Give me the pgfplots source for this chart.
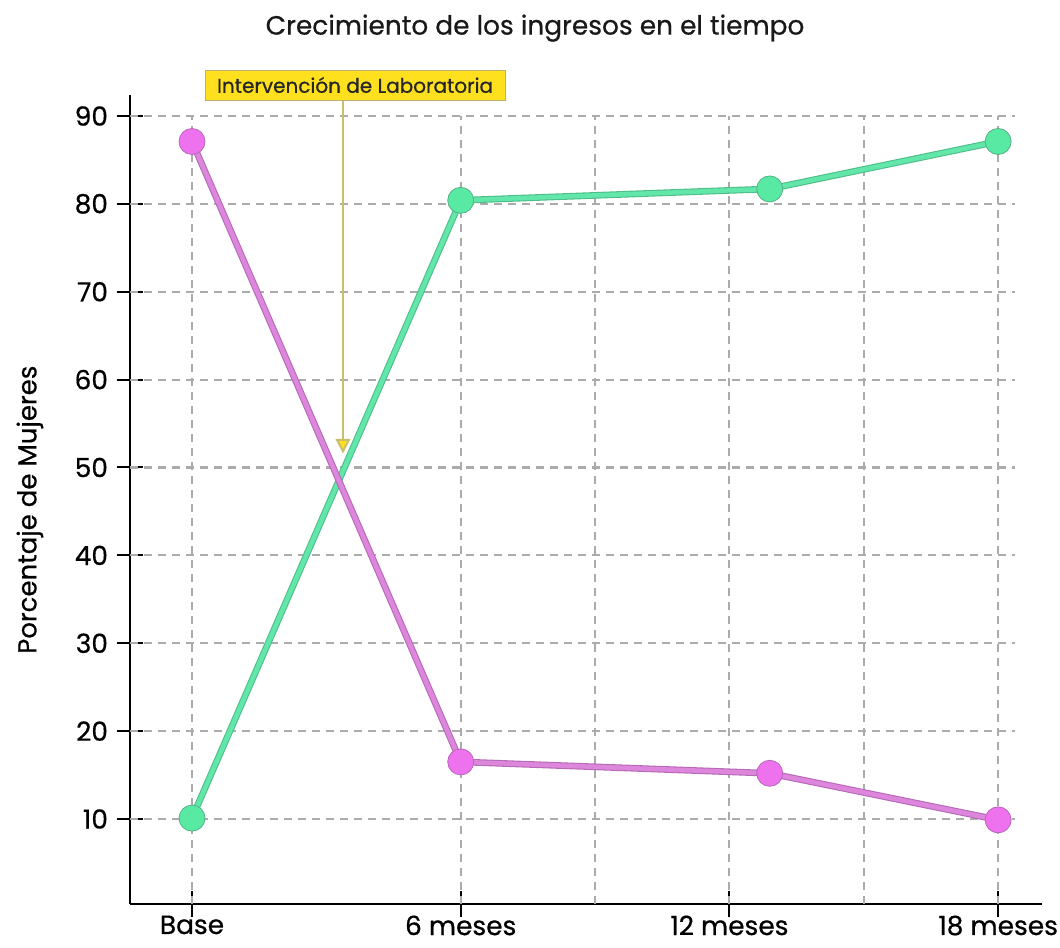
\documentclass[border=0pt]{standalone}
\usepackage{fontspec}
\setmainfont{Poppins}[FakeBold=0.6]
\usepackage{pgfplots}
\pgfplotsset{compat=1.18}
\usepackage{pgfplotstable}
\usetikzlibrary{arrows.meta}

\definecolor{lgreen}{HTML}{62E6A9}
\definecolor{lgreenedge}{HTML}{4DBE8A}
\definecolor{mgreen}{HTML}{58EAA2}
\definecolor{lpink}{HTML}{DC86DC}
\definecolor{lpinkedge}{HTML}{B868B8}
\definecolor{mpink}{HTML}{EE72EE}
\definecolor{gridgray}{HTML}{ABABAB}
\definecolor{annoyellow}{HTML}{FFE01E}
\definecolor{annoline}{HTML}{C9BE6A}

% months since start: Base = 0
\pgfplotstableread{
x    y
0    10.1
6    80.4
12.9 81.7
18   87.1
}\greendata
\pgfplotstableread{
x    y
0    87.1
6    16.5
12.9 15.2
18   9.9
}\pinkdata

\begin{document}
\begin{tikzpicture}
\useasboundingbox (-97.5pt,-33pt) rectangle (697.5pt,678pt);
\begin{axis}[
at={(0,0)}, anchor=south west,
scale only axis,
width=684pt, height=606.75pt,
xmin=-1.385, xmax=18.98,
ymin=0.327, ymax=92.39,
axis x line=bottom, axis y line=left,
axis line style={-, line width=1.5pt, black},
clip=false,
xtick={0,6,12,18},
xticklabels={Base,6 meses,12 meses,18 meses},
ytick={10,20,...,90},
tick align=center,
major tick length=20pt,
tick style={line width=1.5pt, black},
tick label style={font=\fontsize{19.8}{22}\selectfont, text=black},
yticklabel style={xshift=-3pt},
xticklabel style={yshift=2.5pt, inner ysep=1pt},
/pgf/number format/assume math mode=true,
]
% grid
\pgfplotsinvokeforeach{10,20,...,90}{
  \draw[gridgray, line width=1.6pt, dash pattern=on 6pt off 4.5pt]
    (axis cs:-1.385,#1) -- (axis cs:18.38,#1);
}
\pgfplotsinvokeforeach{0,6,9,12,15,18}{
  \draw[gridgray, line width=1.6pt, dash pattern=on 6pt off 4.5pt]
    (axis cs:#1,0.327) -- (axis cs:#1,90);
}

% green series
\addplot[lgreenedge, line width=5pt, no marks] table[x=x, y=y]{\greendata};
\addplot[lgreen, line width=3.4pt, no marks] table[x=x, y=y]{\greendata};
% pink series
\addplot[lpinkedge, line width=5pt, no marks] table[x=x, y=y]{\pinkdata};
\addplot[lpink, line width=3.4pt, no marks] table[x=x, y=y]{\pinkdata};
% markers
\addplot[only marks, mark=*, mark size=9.75pt,
  mark options={fill=mgreen, draw=lgreenedge!80!gray, line width=0.6pt}]
  table[x=x, y=y]{\greendata};
\addplot[only marks, mark=*, mark size=9.75pt,
  mark options={fill=mpink, draw=lpinkedge, line width=0.6pt}]
  table[x=x, y=y]{\pinkdata};

% annotation
\draw[annoline, line width=1.5pt,
  -{Triangle[length=11pt, width=11pt, fill=annoyellow]}]
  (axis cs:3.37,91.82) -- (axis cs:3.37,51.6);
\node[fill=annoyellow, draw=annoline!80!gray, line width=0.6pt,
  minimum width=225pt, minimum height=22.5pt, inner sep=0pt,
  font=\fontsize{15}{17}\selectfont, text=black!85]
  at (axis cs:3.64,93.53) {Intervención de Laboratoria};

% title and y label
\node[font=\fontsize{19.8}{22}\selectfont, text=black!90]
  at (axis cs:7.66,100.0) {Crecimiento de los ingresos en el tiempo};
\node[rotate=90, font=\fontsize{19.5}{22}\selectfont, text=black]
  at (axis cs:-3.62,45.2) {Porcentaje de Mujeres};
\end{axis}
\end{tikzpicture}
\end{document}
